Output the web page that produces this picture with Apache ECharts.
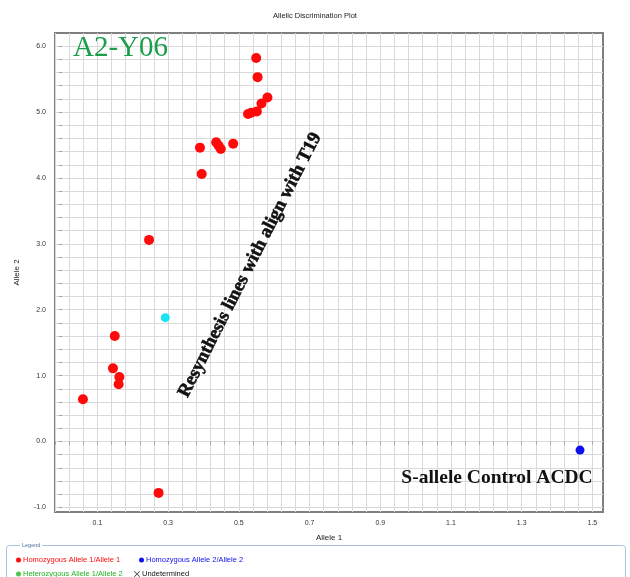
<!DOCTYPE html>
<html>
<head>
<meta charset="utf-8">
<script src="https://cdn.jsdelivr.net/npm/echarts@6/dist/echarts.min.js"></script>
<style>
  html, body { margin: 0; padding: 0; background: #fff; }
  #chart { width: 630px; height: 577px; }
</style>
</head>
<body>
<div id="chart"></div>
<script>
// Axis label values
const xTickLabels = [0.1, 0.3, 0.5, 0.7, 0.9, 1.1, 1.3, 1.5];
const yTickLabels = [-1, 0, 1, 2, 3, 4, 5, 6];

// Homozygous Allele 1/Allele 1 calls (Allele 1 signal, Allele 2 signal)
const hom1Allele1 = [0.549, 0.553, 0.581, 0.564, 0.551, 0.535, 0.526, 0.390, 0.436, 0.443, 0.449, 0.484, 0.395, 0.246, 0.149, 0.144, 0.162, 0.160, 0.273, 0.059];
const hom1Allele2 = [5.82, 5.53, 5.22, 5.13, 5.01, 4.99, 4.97, 4.46, 4.54, 4.49, 4.44, 4.52, 4.06, 3.06, 1.60, 1.11, 0.98, 0.87, -0.78, 0.64];

// Homozygous Allele 2/Allele 2 control
const hom2Allele1 = [1.465];
const hom2Allele2 = [-0.13];

// Unassigned well
const otherAllele1 = [0.292];
const otherAllele2 = [1.88];

const seriesNames = [
  'Homozygous Allele 1/Allele 1',
  'Homozygous Allele 2/Allele 2',
  'Heterozygous Allele 1/Allele 2',
  'Undetermined'
];
const seriesColors = ['#ff0a0a', '#1010ee', '#22b422', '#111111'];

function steps(start, end, step) {
  const out = [];
  for (let i = 0; start + i * step <= end + 1e-9; i++) {
    out.push(Math.round((start + i * step) * 1000) / 1000);
  }
  return out;
}
const xGridValues = steps(-0.02, 1.50, 0.04);
const yGridValues = steps(-1.0, 6.0, 0.2);

const pairs = (xs, ys) => xs.map((x, i) => [x, ys[i]]);
const crossIcon = 'path://M1,0L5,4L9,0L10,1L6,5L10,9L9,10L5,6L1,10L0,9L4,5L0,1Z';
const smallFont = '"Liberation Sans", Arial, sans-serif';
const serifFont = '"Liberation Serif", "Times New Roman", serif';

function legendItem(idx, left, top, icon) {
  return {
    data: [seriesNames[idx]],
    left: left, top: top,
    orient: 'horizontal',
    icon: icon || 'circle',
    itemWidth: icon ? 6 : 5, itemHeight: icon ? 6 : 5,
    padding: 0,
    selectedMode: false,
    textStyle: { fontSize: 7.5, color: seriesColors[idx], fontFamily: smallFont, padding: [0, 0, 0, -3] }
  };
}

const chart = echarts.init(document.getElementById('chart'));
chart.setOption({
  animation: false,
  backgroundColor: '#fff',
  title: {
    text: 'Allelic Discrimination Plot',
    left: 'center', top: 7,
    textStyle: { fontSize: 7.5, fontWeight: 'normal', color: '#222', fontFamily: smallFont }
  },
  grid: {
    left: 55, top: 33, right: 27, bottom: 65,
    show: true, borderColor: '#7f7f7f', borderWidth: 2, backgroundColor: '#fff'
  },
  xAxis: {
    type: 'value', min: -0.02, max: 1.53,
    name: 'Allele 1', nameLocation: 'middle', nameGap: 22,
    nameTextStyle: { fontSize: 8, color: '#222', fontFamily: smallFont },
    axisLine: { show: false },
    axisTick: { show: true, customValues: xGridValues, length: 3, lineStyle: { color: '#a0a0a0' } },
    axisLabel: { customValues: xTickLabels, formatter: v => v.toFixed(1), fontSize: 7, color: '#333', margin: 8, fontFamily: smallFont },
    splitLine: { show: true, lineStyle: { color: '#d9d9d9', width: 1 } }
  },
  yAxis: {
    type: 'value', min: -1.07, max: 6.2,
    name: 'Allele 2', nameLocation: 'middle', nameGap: 34, nameRotate: 90,
    nameTextStyle: { fontSize: 8, color: '#222', fontFamily: smallFont },
    axisLine: { show: false },
    axisTick: { show: true, customValues: yGridValues, length: 3, lineStyle: { color: '#a0a0a0' } },
    axisLabel: { customValues: yTickLabels, formatter: v => v.toFixed(1), fontSize: 7, color: '#333', margin: 9, fontFamily: smallFont },
    splitLine: { show: true, lineStyle: { color: '#d9d9d9', width: 1 } }
  },
  legend: [
    legendItem(0, 16, 556),
    legendItem(1, 139, 556),
    legendItem(2, 16, 570),
    legendItem(3, 134, 570, crossIcon)
  ],
  series: [
    { name: seriesNames[0], type: 'scatter', symbolSize: 10, itemStyle: { color: seriesColors[0], opacity: 1 }, data: pairs(hom1Allele1, hom1Allele2) },
    { name: seriesNames[1], type: 'scatter', symbolSize: 9, itemStyle: { color: seriesColors[1], opacity: 1 }, data: pairs(hom2Allele1, hom2Allele2) },
    { name: seriesNames[2], type: 'scatter', symbolSize: 9, itemStyle: { color: seriesColors[2] }, data: [] },
    { name: seriesNames[3], type: 'scatter', symbol: crossIcon, symbolSize: 8, itemStyle: { color: seriesColors[3] }, data: [] },
    { type: 'scatter', symbolSize: 9, itemStyle: { color: '#18e4f2', opacity: 1 }, data: pairs(otherAllele1, otherAllele2) }
  ],
  graphic: [
    {
      type: 'text', left: 73, top: 34, z: 10,
      style: { text: 'A2-Y06', fontSize: 29, fontFamily: serifFont, fill: '#1a9e4a' }
    },
    {
      type: 'text', x: 250, y: 265, rotation: 63 * Math.PI / 180, z: 10,
      style: { text: 'Resynthesis lines with align with T19', fontSize: 18.7, fontWeight: 'bold', fontFamily: serifFont, fill: '#111', stroke: '#111', lineWidth: 0.6, align: 'center', verticalAlign: 'middle' }
    },
    {
      type: 'text', x: 497, y: 478, z: 10,
      style: { text: 'S-allele Control ACDC', fontSize: 19.5, fontWeight: 'bold', fontFamily: serifFont, fill: '#111', align: 'center', verticalAlign: 'middle' }
    },
    {
      type: 'rect', z: -1,
      shape: { x: 6.5, y: 545.5, width: 619, height: 40, r: 3 },
      style: { fill: '#fff', stroke: '#a8c0dc', lineWidth: 1 }
    },
    {
      type: 'text', x: 20, y: 545.5, z: 0,
      style: { text: 'Legend', fontSize: 5.5, fontFamily: smallFont, fill: '#4d6f99', verticalAlign: 'middle', backgroundColor: '#fff', padding: [0, 2] }
    }
  ]
});
</script>
</body>
</html>
